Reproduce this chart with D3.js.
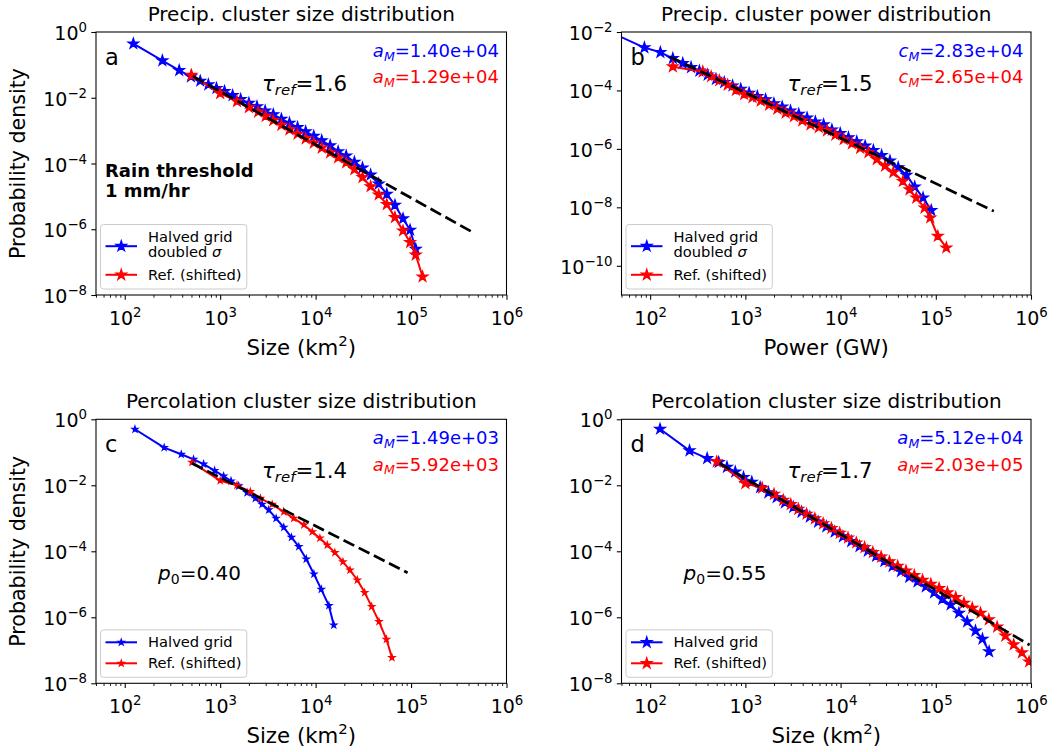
<!DOCTYPE html>
<html><head><meta charset="utf-8">
<script src="https://cdn.jsdelivr.net/npm/d3@7"></script>
<style>
body{margin:0;background:#fff;}
text{font-family:"DejaVu Sans",sans-serif;}
</style></head><body>
<svg id="chart" width="1061" height="752"></svg>
<script>
// ---------------- data ----------------
const xTickExps = [2, 3, 4, 5, 6];
const yTickExpsA = [0, -2, -4, -6, -8];
const yTickExpsB = [-2, -4, -6, -8, -10];

// panel a : precip cluster size
const aBlueX = [123, 248, 372, 494, 618, 752, 914, 1110, 1350, 1640, 2000, 2430, 2960, 3600, 4380, 5320, 6470, 7870, 9570, 11600, 14200, 17200, 20900, 25500, 31000, 37700, 45800, 55700, 67800, 82400, 97700, 112000];
const aBlueY = [0.44, 0.135, 0.068, 0.044, 0.0324, 0.0251, 0.0195, 0.0158, 0.01175, 0.0089, 0.0069, 0.0054, 0.0040, 0.0031, 0.00224, 0.0017, 0.00126, 9.3e-4, 6.8e-4, 5.0e-4, 3.5e-4, 2.3e-4, 1.7e-4, 1.1e-4, 7.4e-5, 4.5e-5, 2.4e-5, 1.17e-5, 5.4e-6, 2.1e-6, 9.5e-7, 2.5e-7];
const aRedX = [500, 1000, 1500, 2000, 2500, 3000, 3600, 4380, 5320, 6470, 7870, 9570, 11600, 14200, 17200, 20900, 25500, 31000, 37700, 45800, 55700, 67800, 82400, 97700, 112000, 132000];
const aRedY = [0.049, 0.0135, 0.0078, 0.0051, 0.0037, 0.00275, 0.00204, 0.00148, 0.00107, 7.9e-4, 5.75e-4, 4.2e-4, 3.0e-4, 2.14e-4, 1.5e-4, 1.07e-4, 6.6e-5, 3.8e-5, 2.0e-5, 1.12e-5, 5.75e-6, 2.3e-6, 9.0e-7, 4.0e-7, 1.66e-7, 3.6e-8];
const aRefX = [519, 460000];
const aRefY = [0.045, 7.6e-7];

// panel b : precip cluster power
const bBlueX = [43, 87, 128, 173, 220, 269, 329, 402, 491, 600, 733, 895, 1094, 1337, 1633, 1995, 2438, 2979, 3639, 4446, 5433, 6637, 8110, 9908, 12100, 14800, 18100, 22100, 27000, 33000, 40300, 49200, 60100, 73500, 89700];
const bBlueY = [8.3e-3, 2.92e-3, 2.02e-3, 1.26e-3, 8.5e-4, 6.2e-4, 4.7e-4, 3.4e-4, 2.45e-4, 1.88e-4, 1.45e-4, 1.12e-4, 8.2e-5, 6.3e-5, 4.9e-5, 3.55e-5, 2.75e-5, 2.0e-5, 1.55e-5, 1.15e-5, 8.5e-6, 6.8e-6, 4.5e-6, 3.4e-6, 2.45e-6, 1.78e-6, 1.26e-6, 8.9e-7, 6.0e-7, 3.9e-7, 2.3e-7, 1.26e-7, 5.0e-8, 2.1e-8, 7.9e-9];
const bRedX = [173, 357, 437, 533, 652, 796, 973, 1189, 1452, 1774, 2168, 2649, 3236, 3954, 4831, 5902, 7211, 8810, 10770, 13150, 16070, 19630, 23990, 29310, 35800, 45100, 53000, 62400, 76200, 87500, 105000, 129000];
const bRedY = [6.5e-4, 4.4e-4, 3.0e-4, 2.2e-4, 1.55e-4, 1.02e-4, 7.4e-5, 5.75e-5, 4.4e-5, 3.2e-5, 2.34e-5, 1.7e-5, 1.29e-5, 9.3e-6, 6.8e-6, 5.4e-6, 4.2e-6, 3.0e-6, 2.1e-6, 1.5e-6, 1.07e-6, 7.6e-7, 4.4e-7, 2.6e-7, 1.58e-7, 7.8e-8, 4.05e-8, 2.1e-8, 9.6e-9, 4.4e-9, 1.03e-9, 4.15e-10];
const bRefX = [160, 407000];
const bRefY = [1.44e-3, 7.4e-9];

// panel c : percolation p0 = 0.40
const cBlueX = [128, 259, 391, 526, 670, 875, 1086, 1300, 1563, 1914, 2339, 2748, 3228, 3855, 4634, 5585, 6668, 7980, 9594, 11460, 13770, 15500];
const cBlueY = [0.50, 0.138, 0.087, 0.061, 0.044, 0.0277, 0.0191, 0.0135, 0.00955, 0.00597, 0.00404, 0.00265, 0.00179, 0.0010, 5.33e-4, 2.65e-4, 1.38e-4, 5.85e-5, 2.05e-5, 7.05e-6, 2.25e-6, 5.85e-7];
const cRedX = [506, 1000, 1500, 2070, 2642, 3508, 4634, 5902, 7534, 9226, 11090, 13240, 15920, 19320, 22910, 27350, 32660, 38730, 46130, 55210, 63100];
const cRedY = [0.0498, 0.0138, 0.0100, 0.0064, 0.00404, 0.00265, 0.00158, 0.0010, 6.3e-4, 3.9e-4, 2.5e-4, 1.55e-4, 9.1e-5, 4.8e-5, 2.7e-5, 1.35e-5, 5.6e-6, 2.1e-6, 7.4e-7, 2.15e-7, 6.0e-8];
const cRefX = [506, 92000];
const cRefY = [0.0465, 2.25e-5];

// panel d : percolation p0 = 0.55
const dBlueX = [127, 259, 397, 525, 641, 783, 957, 1169, 1429, 1746, 2133, 2606, 3184, 3890, 4753, 5808, 7096, 8670, 10590, 12940, 15810, 19320, 23600, 28840, 35240, 43050, 52600, 64270, 78520, 95940, 117200, 143200, 175000, 213800, 261200, 309000, 363000];
const dBlueY = [0.508, 0.112, 0.0658, 0.050, 0.0355, 0.0257, 0.0174, 0.0126, 0.0087, 0.0060, 0.00427, 0.0030, 0.00219, 0.00155, 0.0011, 7.8e-4, 5.6e-4, 3.9e-4, 2.8e-4, 2.0e-4, 1.41e-4, 1.02e-4, 7.1e-5, 5.0e-5, 3.55e-5, 2.45e-5, 1.66e-5, 1.2e-5, 8.5e-6, 5.6e-6, 3.55e-6, 2.4e-6, 1.35e-6, 7.4e-7, 3.9e-7, 2.2e-7, 9.1e-8];
const dRedX = [500, 1000, 1500, 2000, 2500, 3000, 3600, 4395, 5370, 6561, 8017, 9795, 11970, 14620, 17860, 21830, 26670, 32580, 39810, 48640, 59430, 72610, 88720, 108400, 132400, 161800, 197700, 241500, 295100, 360600, 440600, 538300, 657700, 803500, 955000];
const dRedY = [0.0519, 0.0115, 0.0083, 0.0054, 0.00355, 0.00263, 0.0019, 0.00135, 9.8e-4, 6.9e-4, 5.0e-4, 3.55e-4, 2.57e-4, 1.82e-4, 1.32e-4, 9.3e-5, 6.8e-5, 4.9e-5, 3.55e-5, 2.57e-5, 1.86e-5, 1.35e-5, 1.02e-5, 7.6e-6, 5.6e-6, 4.0e-6, 2.7e-6, 1.9e-6, 1.35e-6, 8.5e-7, 5.1e-7, 2.75e-7, 1.48e-7, 8.5e-8, 4.5e-8];
const dRefX = [535, 967000];
const dRefY = [0.0465, 1.45e-7];

// text content
const titles = ["Precip. cluster size distribution", "Precip. cluster power distribution", "Percolation cluster size distribution", "Percolation cluster size distribution"];
const letters = ["a", "b", "c", "d"];
const magSymbols = ["a", "c", "a", "a"];
const magBlue = ["1.40e+04", "2.83e+04", "1.49e+03", "5.12e+04"];
const magRed = ["1.29e+04", "2.65e+04", "5.92e+03", "2.03e+05"];
const tauValues = ["1.6", "1.5", "1.4", "1.7"];
const p0Values = [null, null, "0.40", "0.55"];

// ---------------- layout ----------------
const W = 1061, H = 752;
const BLUE = "#0000ff", RED = "#ff0000";
const panels = [
  {left: 96, right: 506.5, top: 32, bottom: 295, yDomain: [1e-8, 1], yTicks: yTickExpsA,
   blue: [aBlueX, aBlueY], red: [aRedX, aRedY], ref: [aRefX, aRefY], r: 5.4,
   xlabel: "size", ylabel: true, blueLabel: ["Halved grid", "doubled σ"], rain: true},
  {left: 621.5, right: 1031, top: 32, bottom: 295, yDomain: [1e-11, 1e-2], yTicks: yTickExpsB,
   blue: [bBlueX, bBlueY], red: [bRedX, bRedY], ref: [bRefX, bRefY], r: 5.4,
   xlabel: "power", ylabel: false, blueLabel: ["Halved grid", "doubled σ"], rain: false},
  {left: 96, right: 506.5, top: 419.3, bottom: 683.3, yDomain: [1e-8, 1], yTicks: yTickExpsA,
   blue: [cBlueX, cBlueY], red: [cRedX, cRedY], ref: [cRefX, cRefY], r: 3,
   xlabel: "size", ylabel: true, blueLabel: ["Halved grid"], rain: false},
  {left: 621.5, right: 1031, top: 419.3, bottom: 683.3, yDomain: [1e-8, 1], yTicks: yTickExpsA,
   blue: [dBlueX, dBlueY], red: [dRedX, dRedY], ref: [dRefX, dRefY], r: 5.4,
   xlabel: "size", ylabel: false, blueLabel: ["Halved grid"], rain: false}
];

const svg = d3.select("#chart");
svg.append("rect").attr("width", W).attr("height", H).attr("fill", "#fff");
const defs = svg.append("defs");

function expStr(e) { return e < 0 ? "\u2212" + Math.abs(e) : String(e); }

function richText(parent, x, y, o, parts) {
  const t = parent.append("text").attr("x", x).attr("y", y)
    .attr("font-size", o.size).attr("fill", o.color || "#000")
    .attr("text-anchor", o.anchor || "start");
  if (o.weight) t.attr("font-weight", o.weight);
  if (o.transform) t.attr("transform", o.transform);
  let shift = 0;
  parts.forEach(pt => {
    const s = t.append("tspan").text(pt.t);
    const target = pt.sub ? o.size * 0.2 : (pt.sup ? -o.size * 0.42 : 0);
    if (target !== shift) { s.attr("dy", target - shift); shift = target; }
    if (pt.sub || pt.sup) s.attr("font-size", o.size * 0.7);
    if (pt.it) s.attr("font-style", "italic");
  });
  return t;
}

function starSize(r) { return r * r / 0.8908130915292852; }

panels.forEach((p, i) => {
  const g = svg.append("g");
  const x = d3.scaleLog().domain([50, 1e6]).range([p.left, p.right]);
  const y = d3.scaleLog().domain(p.yDomain).range([p.bottom, p.top]);
  const clipId = "clip" + i;
  defs.append("clipPath").attr("id", clipId).append("rect")
    .attr("x", p.left).attr("y", p.top).attr("width", p.right - p.left).attr("height", p.bottom - p.top);

  // minor x ticks
  const minor = [];
  for (let k = 1; k <= 5; k++) for (let m = 2; m <= 9; m++) {
    const v = m * Math.pow(10, k);
    if (v >= 50 && v <= 1e6) minor.push(v);
  }
  const gxm = g.append("g").attr("transform", `translate(0,${p.bottom})`)
    .call(d3.axisBottom(x).tickValues(minor).tickSize(2.7).tickSizeOuter(0).tickFormat(() => ""));
  gxm.select(".domain").remove();
  gxm.selectAll(".tick line").attr("stroke", "#000").attr("stroke-width", 0.9);
  gxm.selectAll(".tick text").remove();

  // major x ticks
  const gx = g.append("g").attr("transform", `translate(0,${p.bottom})`)
    .call(d3.axisBottom(x).tickValues(xTickExps.map(e => Math.pow(10, e))).tickSize(4.7).tickSizeOuter(0).tickFormat(() => ""));
  gx.select(".domain").remove();
  gx.selectAll(".tick line").attr("stroke", "#000").attr("stroke-width", 1.07);
  gx.selectAll(".tick text").each(function(d, j) {
    const t = d3.select(this);
    t.attr("y", 30).attr("dy", null).attr("font-size", 19).attr("fill", "#000").text(null);
    t.append("tspan").text("10");
    t.append("tspan").attr("font-size", 13.3).attr("dy", -8).text(expStr(xTickExps[j]));
  });

  // y ticks
  const gy = g.append("g").attr("transform", `translate(${p.left},0)`)
    .call(d3.axisLeft(y).tickValues(p.yTicks.map(e => Math.pow(10, e))).tickSize(4.7).tickSizeOuter(0).tickFormat(() => ""));
  gy.select(".domain").remove();
  gy.selectAll(".tick line").attr("stroke", "#000").attr("stroke-width", 1.07);
  gy.selectAll(".tick text").each(function(d, j) {
    const t = d3.select(this);
    t.attr("x", -9).attr("y", 7.5).attr("dy", null).attr("font-size", 19).attr("fill", "#000")
      .attr("text-anchor", "end").text(null);
    t.append("tspan").text("10");
    t.append("tspan").attr("font-size", 13.3).attr("dy", -8).text(expStr(p.yTicks[j]));
  });

  // series
  const plot = g.append("g").attr("clip-path", `url(#${clipId})`);
  const line = d3.line().x(d => x(d[0])).y(d => y(d[1]));
  const star = d3.symbol(d3.symbolStar, starSize(p.r));
  [[p.blue, BLUE], [p.red, RED]].forEach(([s, col]) => {
    const pts = s[0].map((v, k) => [v, s[1][k]]);
    plot.append("path").datum(pts).attr("d", line).attr("fill", "none")
      .attr("stroke", col).attr("stroke-width", 2).attr("stroke-linejoin", "round");
    plot.selectAll(null).data(pts).join("path")
      .attr("transform", d => `translate(${x(d[0])},${y(d[1])})`)
      .attr("d", star).attr("fill", col).attr("stroke", col).attr("stroke-width", 1.33);
  });
  const refPts = p.ref[0].map((v, k) => [v, p.ref[1][k]]);
  plot.append("path").datum(refPts).attr("d", line).attr("fill", "none")
    .attr("stroke", "#000").attr("stroke-width", 2.7).attr("stroke-dasharray", "12,5");

  // spines
  g.append("rect").attr("x", p.left).attr("y", p.top).attr("width", p.right - p.left)
    .attr("height", p.bottom - p.top).attr("fill", "none").attr("stroke", "#000").attr("stroke-width", 1.07);

  // title
  g.append("text").attr("x", (p.left + p.right) / 2).attr("y", p.top - 11.5)
    .attr("text-anchor", "middle").attr("font-size", 20).attr("fill", "#000").text(titles[i]);

  // x label
  const cx = (p.left + p.right) / 2;
  if (p.xlabel === "size") {
    richText(g, cx, p.bottom + 60, {size: 21.3, anchor: "middle"},
      [{t: "Size (km"}, {t: "2", sup: true}, {t: ")"}]);
  } else {
    richText(g, cx, p.bottom + 60, {size: 21.3, anchor: "middle"}, [{t: "Power (GW)"}]);
  }
  if (p.ylabel) {
    const cy = (p.top + p.bottom) / 2;
    richText(g, 0, 0, {size: 20.6, anchor: "middle", transform: `translate(25,${cy}) rotate(-90)`},
      [{t: "Probability density"}]);
  }

  // annotations
  richText(g, p.left + 9, p.top + 33, {size: 22.5}, [{t: letters[i]}]);
  richText(g, p.right - 7.5, p.top + 25, {size: 18, anchor: "end", color: BLUE},
    [{t: magSymbols[i], it: true}, {t: "M", it: true, sub: true}, {t: "=" + magBlue[i]}]);
  richText(g, p.right - 7.5, p.top + 51.3, {size: 18, anchor: "end", color: RED},
    [{t: magSymbols[i], it: true}, {t: "M", it: true, sub: true}, {t: "=" + magRed[i]}]);
  richText(g, p.left + 166, p.top + 58.8, {size: 21.3},
    [{t: "τ", it: true}, {t: "ref", it: true, sub: true}, {t: "=" + tauValues[i]}]);
  if (p0Values[i]) {
    richText(g, p.left + 62, p.top + 160.7, {size: 20},
      [{t: "p", it: true}, {t: "0", sub: true}, {t: "=" + p0Values[i]}]);
  }
  if (p.rain) {
    richText(g, p.left + 9, p.top + 144.7, {size: 18, weight: "bold"}, [{t: "Rain threshold"}]);
    richText(g, p.left + 9, p.top + 164.7, {size: 18, weight: "bold"}, [{t: "1 mm/hr"}]);
  }

  // legend
  const twoLine = p.blueLabel.length > 1;
  const boxH = twoLine ? 64.5 : 47.4;
  const bx = p.left + 4.5, by = p.bottom - 6 - boxH;
  const lg = g.append("g");
  lg.append("rect").attr("x", bx).attr("y", by).attr("width", 146.3).attr("height", boxH)
    .attr("rx", 3).attr("fill", "#fff").attr("fill-opacity", 0.8).attr("stroke", "#cccccc").attr("stroke-width", 1);
  const entries = twoLine
    ? [{col: BLUE, hy: by + 21.7, lines: [[{t: "Halved grid"}], [{t: "doubled "}, {t: "σ", it: true}]], ty: by + 17.3},
       {col: RED, hy: by + 50.3, lines: [[{t: "Ref. (shifted)"}]], ty: by + 55.7}]
    : [{col: BLUE, hy: by + 12.4, lines: [[{t: "Halved grid"}]], ty: by + 17.4},
       {col: RED, hy: by + 33.4, lines: [[{t: "Ref. (shifted)"}]], ty: by + 38}];
  entries.forEach(e => {
    lg.append("line").attr("x1", bx + 5).attr("x2", bx + 36.5).attr("y1", e.hy).attr("y2", e.hy)
      .attr("stroke", e.col).attr("stroke-width", 2);
    lg.append("path").attr("transform", `translate(${bx + 20.75},${e.hy})`).attr("d", star)
      .attr("fill", e.col).attr("stroke", e.col).attr("stroke-width", 1.33);
    e.lines.forEach((ln, k) => richText(lg, bx + 47.5, e.ty + k * 15, {size: 14.7}, ln));
  });
});
</script>
</body></html>
